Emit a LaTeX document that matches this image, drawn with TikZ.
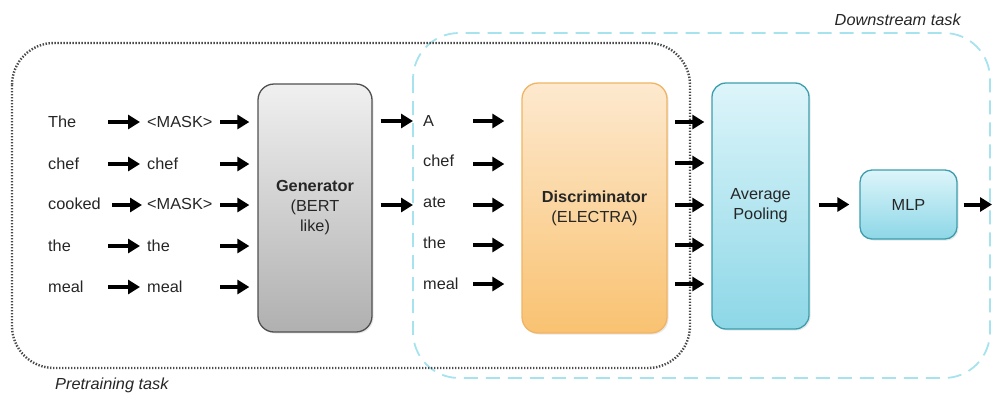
\documentclass[tikz,border=0pt]{standalone}
\usepackage{fontspec}
\setmainfont{Liberation Sans}[FakeStretch=1.02]
\usetikzlibrary{arrows.meta,calc,shadows}
\definecolor{txt}{HTML}{262626}
\definecolor{dashc}{HTML}{A6E3EE}
\definecolor{dotc}{HTML}{4A4A4A}
\definecolor{genborder}{HTML}{505050}
\definecolor{gentop}{HTML}{F0F0F0}
\definecolor{genbot}{HTML}{B0B0B0}
\definecolor{discborder}{HTML}{EFB564}
\definecolor{disctop}{HTML}{FDE9CF}
\definecolor{discbot}{HTML}{F9C271}
\definecolor{poolborder}{HTML}{3C9EAD}
\definecolor{pooltop}{HTML}{DDF5FA}
\definecolor{poolbot}{HTML}{8DD7E7}
\tikzset{
  tok/.style={anchor=west, inner sep=0pt, text=txt, font=\fontsize{16}{19}\selectfont},
  arr/.style={-{Triangle[length=12pt,width=14pt]}, line width=4pt, black},
  boxbase/.style={line width=1.3pt, align=center, text=txt, font=\fontsize{16}{20}\selectfont,
    drop shadow={opacity=0.18, shadow xshift=1.5pt, shadow yshift=-1.5pt}},
  genbox/.style={boxbase, draw=genborder, rounded corners=16pt, top color=gentop, bottom color=genbot},
  discbox/.style={boxbase, draw=discborder, rounded corners=16pt, top color=disctop, bottom color=discbot},
  poolbox/.style={boxbase, draw=poolborder, rounded corners=14pt, top color=pooltop, bottom color=poolbot},
  tasklabel/.style={inner sep=0pt, text=txt, font=\fontsize{16}{19}\selectfont\itshape},
}
\begin{document}
\begin{tikzpicture}[x=1pt,y=-1pt]
\useasboundingbox (0,0) rectangle (992,394);
% frames
\draw[dashc, line width=1.8pt, dash pattern=on 14pt off 8pt, rounded corners=46pt] (413,33) rectangle (990,378);
\draw[dotc, line width=2.4pt, dash pattern=on 1.4pt off 1.6pt, rounded corners=42pt] (12,43) rectangle (690,368);
\node[tasklabel, anchor=east] (dlab) at (961,20) {Downstream task};
\node[tasklabel, anchor=west] (plab) at (55,385) {Pretraining task};

% boxes
\node[genbox, minimum width=114pt, minimum height=248pt] (g) at (315,208) {\textbf{Generator}\\(BERT\\like)};
\node[discbox, minimum width=145pt, minimum height=250pt] (d) at (594.5,208) {\textbf{Discriminator}\\(ELECTRA)};
\node[poolbox, minimum width=97pt, minimum height=246pt] (p) at (760.5,206) {Average\\Pooling};
\node[poolbox, minimum width=97pt, minimum height=69pt, rounded corners=12pt] (mlp) at (908.5,204.5) {MLP};

% input tokens
\node[tok] (t1) at (48,122) {The};
\node[tok] (t2) at (48,164) {chef};
\node[tok] (t3) at (48,204) {cooked};
\node[tok] (t4) at (48,246) {the};
\node[tok] (t5) at (48,287) {meal};
% masked tokens
\node[tok] (m1) at (147,122) {<MASK>};
\node[tok] (m2) at (147,164) {chef};
\node[tok] (m3) at (147,204) {<MASK>};
\node[tok] (m4) at (147,246) {the};
\node[tok] (m5) at (147,287) {meal};
% generated tokens
\node[tok] (o1) at (423,121) {A};
\node[tok] (o2) at (423,161) {chef};
\node[tok] (o3) at (423,202) {ate};
\node[tok] (o4) at (423,243) {the};
\node[tok] (o5) at (423,284) {meal};

% arrow start coordinates
\coordinate (a1) at (108,122);
\coordinate (a2) at (108,164);
\coordinate (a3) at (112,205);
\coordinate (a4) at (108,246);
\coordinate (a5) at (108,287);
\draw[arr, shorten >=7pt] (a1) -- (m1.west);
\draw[arr, shorten >=7pt] (a2) -- (m2.west);
\draw[arr, shorten >=5pt] (a3) -- (a3 -| m3.west);
\draw[arr, shorten >=7pt] (a4) -- (a4 -| m4.west);
\draw[arr, shorten >=7pt] (a5) -- (a5 -| m5.west);

\foreach \i/\y in {1/122,2/164,3/205,4/246,5/287}{
  \coordinate (b\i) at (220,\y);
  \draw[arr, shorten >=8pt] (b\i) -- (b\i -| g.west);
}
% generator outputs
\draw[arr, shorten <=8pt, shorten >=10pt] (g.east |- o1.west) -- (o1.west);
\draw[arr, shorten <=8pt, shorten >=10pt] (g.east |- b3) -- (b3 -| o3.west);

% to discriminator
\foreach \i/\y in {1/121,2/164,3/205,4/245,5/284}{
  \coordinate (c\i) at (473,\y);
  \draw[arr, shorten >=17pt] (c\i) -- (c\i -| d.west);
}
% discriminator to pooling
\foreach \i/\y in {1/122,2/163,3/205,4/245,5/284}{
  \coordinate (e\i) at (675,\y);
  \draw[arr, shorten >=7pt] (e\i) -- (e\i -| p.west);
}
% pooling to MLP
\draw[arr, shorten <=9pt, shorten >=10pt] (p.east |- mlp.west) -- (mlp.west);
\coordinate (out) at (992,204.5);
\draw[arr, shorten <=6pt] (mlp.east) -- (out);
\end{tikzpicture}
\end{document}
